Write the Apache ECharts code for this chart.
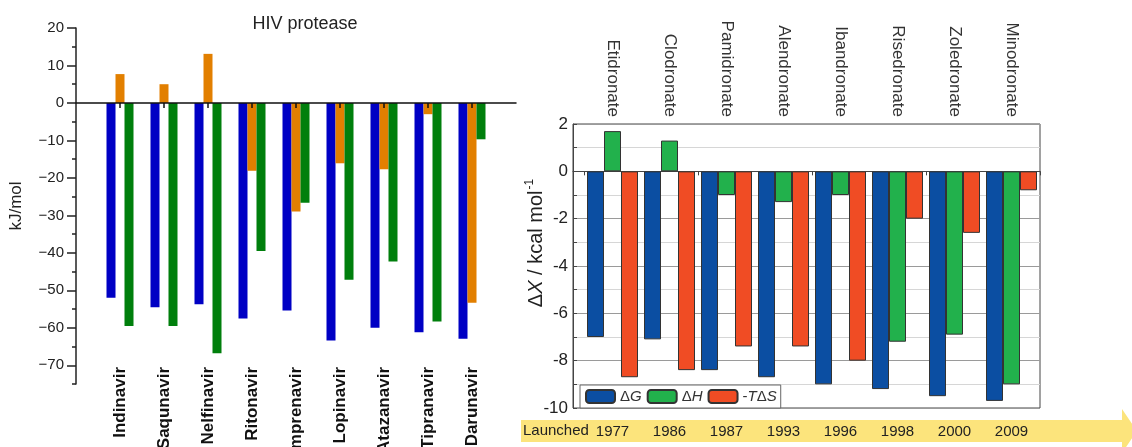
<!DOCTYPE html>
<html>
<head>
<meta charset="utf-8">
<script src="https://cdn.jsdelivr.net/npm/echarts@6/dist/echarts.min.js"></script>
<style>
  html, body { margin: 0; padding: 0; background: #fff; }
  #chart { width: 1132px; height: 447px; }
</style>
</head>
<body>
<div id="chart"></div>
<script>
// left panel: HIV protease, kJ/mol
const hivDrugs = ['Indinavir', 'Saqunavir', 'Nelfinavir', 'Ritonavir', 'Amprenavir', 'Lopinavir', 'Atazanavir', 'Tipranavir', 'Darunavir'];
const hivDG = [-52.0, -54.5, -53.7, -57.5, -55.4, -63.4, -60.0, -61.2, -62.9];
const hivTdS = [7.7, 5.0, 13.1, -18.1, -29.0, -16.1, -17.7, -3.0, -53.3];
const hivDH = [-59.5, -59.5, -66.8, -39.5, -26.6, -47.2, -42.3, -58.3, -9.7];
const hivTicks = [20, 10, 0, -10, -20, -30, -40, -50, -60, -70];

// right panel: bisphosphonates, kcal/mol
const bpDrugs = ['Etidronate', 'Clodronate', 'Pamidronate', 'Alendronate', 'Ibandronate', 'Risedronate', 'Zoledronate', 'Minodronate'];
const bpYears = ['1977', '1986', '1987', '1993', '1996', '1998', '2000', '2009'];
const bpDG = [-7.0, -7.1, -8.4, -8.7, -9.0, -9.2, -9.5, -9.7];
const bpDH = [1.7, 1.3, -1.0, -1.3, -1.0, -7.2, -6.9, -9.0];
const bpTdS = [-8.7, -8.4, -7.4, -7.4, -8.0, -2.0, -2.6, -0.8];

const FONT = '"Liberation Sans", Arial, sans-serif';

// blank end categories so the zero line runs past the first and last drug
const hivCats = [' '].concat(hivDrugs, ['  ']);
function pad(arr) {
    return ['-'].concat(arr, ['-']);
}

const chart = echarts.init(document.getElementById('chart'));

const option = {
    animation: false,
    textStyle: { fontFamily: FONT },
    title: {
        text: 'HIV protease',
        left: 300,
        textAlign: 'center',
        top: 10,
        textStyle: { fontSize: 18, fontWeight: 'normal', color: '#222', fontFamily: FONT }
    },
    legend: {
        data: ['ΔG', 'ΔH', '-TΔS'],
        left: 580,
        top: 385,
        padding: [4, 4, 4, 5],
        itemGap: 5,
        itemWidth: 29,
        itemHeight: 13,
        selectedMode: false,
        backgroundColor: '#fff',
        borderColor: '#666',
        borderWidth: 1,
        formatter: function (name) {
            if (name === 'ΔG') return 'Δ{i|G}';
            if (name === 'ΔH') return 'Δ{i|H}';
            return '-{i|T}Δ{i|S}';
        },
        textStyle: {
            fontSize: 15, color: '#333', fontFamily: FONT,
            rich: { i: { fontStyle: 'italic', fontSize: 15, color: '#333', fontFamily: FONT } }
        }
    },
    grid: [
        { left: 76, top: 28, width: 440, height: 356, outerBoundsMode: 'none', containLabel: false },
        { left: 573, top: 124, width: 467, height: 284, outerBoundsMode: 'none', containLabel: false,
          show: true, borderColor: '#444', borderWidth: 1, backgroundColor: 'transparent' },
        { left: 584, top: 124, width: 456, height: 284, outerBoundsMode: 'none', containLabel: false }
    ],
    xAxis: [
        { // drug names under the left plot
            type: 'category', gridIndex: 0, data: hivCats, boundaryGap: false,
            position: 'bottom', axisLine: { show: false, onZero: false }, axisTick: { show: false },
            axisLabel: { rotate: 90, fontSize: 17, fontWeight: 'bold', color: '#111', margin: -17, interval: 0 }
        },
        { // zero line of left plot
            type: 'category', gridIndex: 0, data: hivCats, boundaryGap: false, z: 5,
            position: 'bottom', axisLine: { show: true, onZero: true, lineStyle: { color: '#111', width: 1.5 } },
            axisTick: { show: true, length: 5, lineStyle: { color: '#111', width: 1.5 },
                interval: function (i, v) { return v.trim() !== ''; } },
            axisLabel: { show: false }
        },
        { // zero line across right frame
            type: 'value', gridIndex: 1, min: 0, max: 1,
            axisLine: { show: true, onZero: true, lineStyle: { color: '#444', width: 1 } },
            axisTick: { show: false }, axisLabel: { show: false }, splitLine: { show: false }
        },
        { // right plot category ticks on zero
            type: 'category', gridIndex: 2, data: bpDrugs, position: 'bottom',
            axisLine: { show: false, onZero: true },
            axisTick: { show: true, length: 4, lineStyle: { color: '#444' } },
            axisLabel: { show: false }
        },
        { // drug names above right plot
            type: 'category', gridIndex: 2, data: bpDrugs, position: 'top',
            axisLine: { show: false, onZero: false }, axisTick: { show: false },
            axisLabel: { rotate: 90, fontSize: 17, color: '#333', margin: 7, interval: 0 }
        },
        { // launch years in the arrow
            type: 'category', gridIndex: 2, data: bpYears, position: 'bottom',
            axisLine: { show: false, onZero: false }, axisTick: { show: false },
            axisLabel: { fontSize: 15, color: '#222', margin: 16, interval: 0 }
        }
    ],
    yAxis: [
        {
            type: 'value', gridIndex: 0, min: -75, max: 20, interval: 5, position: 'left',
            name: 'kJ/mol', nameLocation: 'middle', nameGap: 51,
            nameTextStyle: { fontSize: 17, color: '#222', fontFamily: FONT },
            axisLine: { show: true, lineStyle: { color: '#222', width: 1.5 } },
            axisTick: { show: true, length: 9, customValues: hivTicks, lineStyle: { color: '#222', width: 1.5 } },
            axisLabel: {
                customValues: hivTicks, fontSize: 15, color: '#222', margin: 12,
                formatter: function (v) { return String(v).replace('-', '\u2212'); }
            },
            splitLine: { show: false }
        },
        { // minor ticks
            type: 'value', gridIndex: 0, min: -75, max: 20, interval: 5, position: 'left',
            axisLine: { show: false }, axisLabel: { show: false }, splitLine: { show: false },
            axisTick: { show: true, length: 4, lineStyle: { color: '#222', width: 1.5 } }
        },
        { // right frame axis with gridlines
            type: 'value', gridIndex: 1, min: -10, max: 2, interval: 1, position: 'left',
            axisLine: { show: true, lineStyle: { color: '#444' } },
            axisTick: { show: true, inside: true, length: 4, lineStyle: { color: '#444' } },
            axisLabel: {
                fontSize: 17, color: '#222', margin: 5,
                formatter: function (v) { return v % 2 === 0 ? String(v) : ''; }
            },
            splitLine: { show: true, lineStyle: { color: ['#9a9a9a', '#d6d6d6'], width: 1 } }
        },
        {
            type: 'value', gridIndex: 2, min: -10, max: 2, interval: 1, show: false
        }
    ],
    graphic: [
        {
            type: 'polygon', z: 0,
            shape: { points: [[521, 420], [1122, 420], [1122, 409], [1137, 431], [1122, 453], [1122, 442], [521, 442]] },
            style: { fill: '#fce47c' }
        },
        {
            type: 'text', x: 523, y: 431, z: 1,
            style: { text: 'Launched', font: '15px ' + FONT, fill: '#222', verticalAlign: 'middle' }
        },
        {
            type: 'text', x: 536, y: 243, rotation: Math.PI / 2,
            style: {
                text: 'Δ{i|X} / kcal mol{s|-1}',
                font: '20px ' + FONT, fill: '#222', align: 'center', verticalAlign: 'middle',
                rich: {
                    i: { fontStyle: 'italic', fontSize: 20, fontFamily: FONT, fill: '#222' },
                    s: { fontSize: 12, fontFamily: FONT, fill: '#222', padding: [0, 0, 12, 1] }
                }
            }
        }
    ],
    series: [
        { name: 'hivDG', type: 'bar', xAxisIndex: 0, yAxisIndex: 0, data: pad(hivDG), barWidth: 9, barGap: '0%', itemStyle: { color: '#0000c4' } },
        { name: 'hivTdS', type: 'bar', xAxisIndex: 0, yAxisIndex: 0, data: pad(hivTdS), barWidth: 9, barGap: '0%', itemStyle: { color: '#e27f00' } },
        { name: 'hivDH', type: 'bar', xAxisIndex: 0, yAxisIndex: 0, data: pad(hivDH), barWidth: 9, barGap: '0%', itemStyle: { color: '#007f0c' } },

        { name: 'ΔG', type: 'bar', xAxisIndex: 3, yAxisIndex: 3, data: bpDG, barWidth: 17, barGap: '0%', itemStyle: { color: '#0b4ea2', borderColor: '#333', borderWidth: 1 } },
        { name: 'ΔH', type: 'bar', xAxisIndex: 3, yAxisIndex: 3, data: bpDH, barWidth: 17, barGap: '0%', itemStyle: { color: '#22b14c', borderColor: '#333', borderWidth: 1 } },
        { name: '-TΔS', type: 'bar', xAxisIndex: 3, yAxisIndex: 3, data: bpTdS, barWidth: 17, barGap: '0%', itemStyle: { color: '#f04c24', borderColor: '#333', borderWidth: 1 } }
    ]
};

chart.setOption(option);
</script>
</body>
</html>
